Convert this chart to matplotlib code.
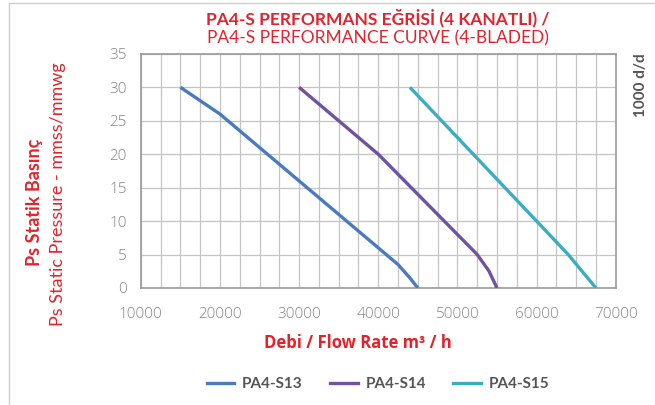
import matplotlib
matplotlib.use("Agg")
import matplotlib.pyplot as plt
from matplotlib.lines import Line2D

# ─────────────────────────────────────────────
#  Data
# ─────────────────────────────────────────────
s13_flow = [15000, 20000, 25000, 30000, 35000, 40000, 42500, 44000, 45000]
s13_ps   = [30, 26, 21, 16, 11, 6, 3.5, 1.5, 0]

s14_flow = [30000, 35000, 40000, 42500, 45000, 50000, 52500, 54000, 55000]
s14_ps   = [30, 25, 20, 17, 14, 8, 5, 2.5, 0]

s15_flow = [44000, 48000, 52000, 56000, 60000, 64000, 67500]
s15_ps   = [30, 25, 20, 15, 10, 5, 0]

series_names = ["PA4-S13", "PA4-S14", "PA4-S15"]
x_ticks = [10000, 20000, 30000, 40000, 50000, 60000, 70000]
y_ticks = [0, 5, 10, 15, 20, 25, 30, 35]

RED   = "#e3232c"
GREY  = "#858585"
COLORS = ["#4a7bbf", "#6f52a0", "#3badc3"]
FONT = ["Lato", "DejaVu Sans"]
TICK_FONT = ["Open Sans", "DejaVu Sans"]

plt.rcParams["font.family"] = FONT

fig = plt.figure(figsize=(6.55, 4.05), dpi=100, facecolor="white")
ax = fig.add_axes([0.215, 0.289, 0.725, 0.578])

for flow, ps, c in zip([s13_flow, s14_flow, s15_flow],
                       [s13_ps, s14_ps, s15_ps], COLORS):
    ax.plot(flow, ps, color=c, lw=2.4, solid_capstyle="butt", zorder=3)

ax.set_xlim(10000, 70000)
ax.set_ylim(0, 35)
ax.set_xticks(x_ticks)
ax.set_yticks(y_ticks)
ax.set_xticks([x for x in range(10000, 70001, 2500)], minor=True)
ax.grid(True, which="both", axis="x", color="#c4c4c4", lw=0.9)
ax.grid(True, which="major", axis="y", color="#c4c4c4", lw=0.9)
ax.tick_params(which="both", length=0, colors=GREY, labelsize=11)
ax.tick_params(axis="x", pad=14)
ax.tick_params(axis="y", pad=10)
for lbl in ax.get_xticklabels() + ax.get_yticklabels():
    lbl.set_family(TICK_FONT)
    lbl.set_fontweight("light")
for sp in ax.spines.values():
    sp.set_color("#9a9a9a")
    sp.set_linewidth(1.2)
ax.set_axisbelow(True)

# titles
fig.text(0.577, 0.957, "PA4-S PERFORMANS EĞRİSİ (4 KANATLI) /", color=RED,
         fontsize=12.5, fontweight="bold", ha="center", va="center")
fig.text(0.577, 0.906, "PA4-S PERFORMANCE CURVE (4-BLADED)", color=RED,
         fontsize=12.5, ha="center", va="center")

# axis labels
fig.text(0.053, 0.50, "Ps Statik Basınç", color=RED, fontsize=13,
         fontweight="bold", rotation=90, ha="center", va="center")
fig.text(0.088, 0.52, "Ps Static Pressure - mmss/mmwg", color=RED,
         fontsize=13, rotation=90, ha="center", va="center")
fig.text(0.547, 0.152, "Debi / Flow Rate m³ / h", color=RED, fontsize=12,
         fontweight="bold", ha="center", va="center",
         family=["Open Sans", "DejaVu Sans"])
fig.text(0.978, 0.79, "1000 d/d", color="#555555", fontsize=11,
         fontweight="bold", rotation=90, ha="center", va="center")

# legend
handles = [Line2D([], [], color=c, lw=2.4) for c in COLORS]
fig.legend(handles, series_names, loc="center", bbox_to_anchor=(0.577, 0.052),
           ncol=3, frameon=False, handlelength=1.8, handletextpad=0.5,
           columnspacing=1.8,
           prop={"family": FONT, "weight": "bold", "size": 11},
           labelcolor="#555555")

# page frame
fig.add_artist(Line2D([0.014, 0.014], [0.0, 0.993], color="#cccccc", lw=1.0))
fig.add_artist(Line2D([0.014, 1.0], [0.993, 0.993], color="#cccccc", lw=1.0))

fig.savefig("out.png", dpi=100)
